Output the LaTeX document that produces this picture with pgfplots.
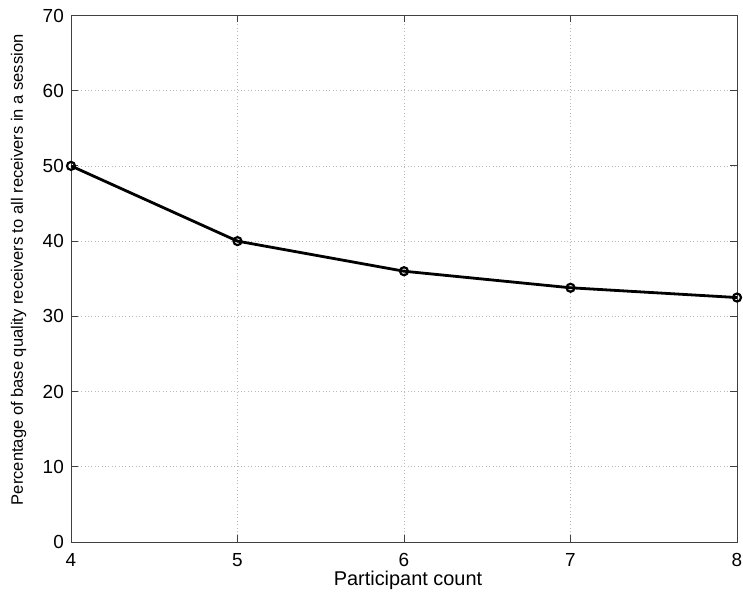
\documentclass[border=0pt]{standalone}
\usepackage{pgfplots}
\pgfplotsset{compat=1.18}
\usepackage{fontspec}
\setmainfont{Liberation Sans}
\begin{document}
\begin{tikzpicture}[x=1bp,y=1bp]
\path[use as bounding box] (-71,-58) rectangle (672,542);
\begin{axis}[
  at={(0,0)}, anchor=south west,
  scale only axis, width=666bp, height=526.5bp,
  xmin=4, xmax=8, ymin=0, ymax=70,
  xtick={4,5,6,7,8}, ytick={0,10,20,30,40,50,60,70},
  grid=major,
  grid style={dash pattern=on 0.8bp off 2.6bp, gray!55, line width=0.6bp},
  axis line style={black!75, line width=0.9pt},
  tick style={black!75, line width=0.9pt},
  tick align=inside, major tick length=7bp,
  /pgf/number format/assume math mode=true,
  ticklabel style={font=\fontsize{19}{22}\selectfont, inner sep=0pt},
  xticklabel style={anchor=north, yshift=-11bp},
  yticklabel style={anchor=east, xshift=-7bp},
  xlabel={Participant count},
  xlabel style={font=\fontsize{20}{23}\selectfont, at={([yshift=-44bp,xshift=4bp]rel axis cs:0.5,0)}, anchor=base, inner sep=0pt},
  ylabel={Percentage of base quality receivers to all receivers in a session},
  ylabel style={font=\fontsize{16.6}{19}\selectfont, at={([xshift=-48bp,yshift=9bp]rel axis cs:0,0.5)}, anchor=base, inner sep=0pt},
]
\addplot[black, line width=2.8bp, mark=o, mark size=4bp, mark options={line width=2.2bp}]
coordinates {(4,50) (5,40) (6,36) (7,33.8) (8,32.5)};
\end{axis}
\end{tikzpicture}
\end{document}
